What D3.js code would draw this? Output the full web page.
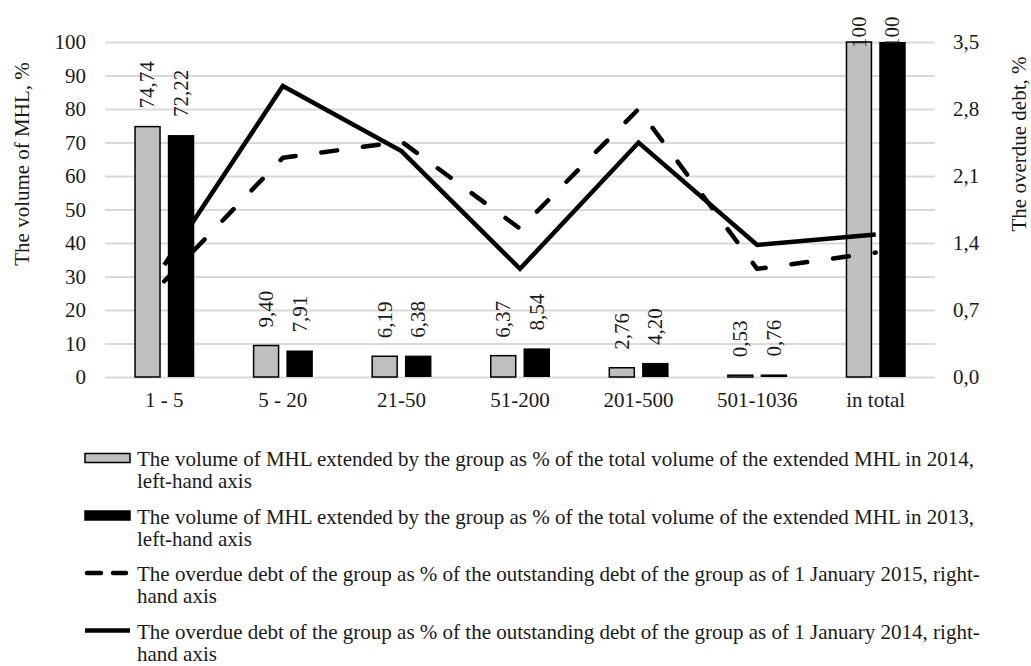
<!DOCTYPE html>
<html>
<head>
<meta charset="utf-8">
<script src="https://cdn.jsdelivr.net/npm/d3@7"></script>
<style>
  html, body { margin: 0; padding: 0; background: #fff; }
  svg text { font-family: "Liberation Serif", "Times New Roman", serif; fill: #1a1a1a; }
</style>
</head>
<body>
<svg id="chart" width="1031" height="666"></svg>
<script>
// ---- data ----
const categories = ["1 - 5", "5 - 20", "21-50", "51-200", "201-500", "501-1036", "in total"];
const volume2014 = [74.74, 9.40, 6.19, 6.37, 2.76, 0.53, 100];
const volume2013 = [72.22, 7.91, 6.38, 8.54, 4.20, 0.76, 100];
const overdue2015 = [1.00, 2.29, 2.46, 1.55, 2.80, 1.13, 1.30];
const overdue2014 = [1.17, 3.04, 2.36, 1.13, 2.45, 1.38, 1.49];
const leftTicks = [0, 10, 20, 30, 40, 50, 60, 70, 80, 90, 100];
const rightTicks = [0, 0.7, 1.4, 2.1, 2.8, 3.5];
const leftTitle = "The volume of MHL, %";
const rightTitle = "The overdue debt, %";
const legendItems = [
  ["The volume of MHL extended by the group as % of the total volume of the extended MHL in 2014,", "left-hand axis"],
  ["The volume of MHL extended by the group as % of the total volume of the extended MHL in 2013,", "left-hand axis"],
  ["The overdue debt of the group as % of the outstanding debt of the group as of 1 January 2015, right-", "hand axis"],
  ["The overdue debt of the group as % of the outstanding debt of the group as of 1 January 2014, right-", "hand axis"]
];

// ---- layout ----
const svg = d3.select("#chart");
const L = 105, R = 935, T = 42, B = 377;
const FS = 21;
const FF = '"Liberation Serif", "Times New Roman", serif';
const comma = s => s.replace(".", ",");

const x = d3.scaleBand().domain(categories).range([L, R]);
const groupW = 60;
const xi = d3.scaleBand().domain(["2014", "2013"]).range([0, groupW]).paddingInner(0.21);
const yL = d3.scaleLinear().domain([0, 100]).range([B, T]);
const yR = d3.scaleLinear().domain([0, 3.5]).range([B, T]);

function styleText(sel) {
  sel.attr("font-size", FS).style("font-family", FF).attr("fill", "#1a1a1a");
}

// gridlines + left axis
const gl = svg.append("g").attr("transform", `translate(${L},0)`)
  .call(d3.axisLeft(yL).tickValues(leftTicks).tickSize(-(R - L)).tickPadding(19).tickFormat(d3.format("d")));
gl.select(".domain").remove();
gl.selectAll(".tick line").attr("stroke", "#d9d9d9").attr("stroke-width", 2);
styleText(gl.selectAll(".tick text"));

// right axis
const gr = svg.append("g").attr("transform", `translate(${R},0)`)
  .call(d3.axisRight(yR).tickValues(rightTicks).tickSize(0).tickPadding(18).tickFormat(d => comma(d3.format(".1f")(d))));
gr.select(".domain").remove();
styleText(gr.selectAll(".tick text"));

// bottom axis
const gb = svg.append("g").attr("transform", `translate(0,${B})`)
  .call(d3.axisBottom(x).tickSize(0).tickPadding(15));
gb.select(".domain").remove();
styleText(gb.selectAll(".tick text"));

// axis titles
svg.append("text").attr("transform", `translate(29,164) rotate(-90)`)
  .attr("text-anchor", "middle").attr("font-size", FS).text(leftTitle);
svg.append("text").attr("transform", `translate(1026,144) rotate(-90)`)
  .attr("text-anchor", "middle").attr("font-size", FS).text(rightTitle);

// bars
const series = [
  { key: "2014", values: volume2014, fill: "#bfbfbf", stroke: "#000" },
  { key: "2013", values: volume2013, fill: "#000", stroke: "none" }
];
const off = (x.bandwidth() - groupW) / 2;
series.forEach(s => {
  const g = svg.append("g");
  g.selectAll("rect").data(s.values).enter().append("rect")
    .attr("x", (d, i) => x(categories[i]) + off + xi(s.key) + (s.stroke !== "none" ? 0.75 : 0))
    .attr("y", d => yL(d))
    .attr("width", xi.bandwidth() - (s.stroke !== "none" ? 1.5 : 0))
    .attr("height", d => B - yL(d))
    .attr("fill", s.fill)
    .attr("stroke", s.stroke)
    .attr("stroke-width", 1.5);
});

// lines
const line = d3.line().x((d, i) => x(categories[i]) + x.bandwidth() / 2).y(d => yR(d));
svg.append("path").datum(overdue2015).attr("d", line)
  .attr("fill", "none").attr("stroke", "#000").attr("stroke-width", 4.5)
  .attr("stroke-dasharray", "16,26").attr("stroke-linecap", "round").attr("stroke-linejoin", "round");
svg.append("path").datum(overdue2014).attr("d", line)
  .attr("fill", "none").attr("stroke", "#000").attr("stroke-width", 4.5)
  .attr("stroke-linejoin", "miter");

// bar labels
series.forEach(s => {
  svg.append("g").selectAll("text").data(s.values).enter().append("text")
    .attr("transform", (d, i) => {
      const cx = x(categories[i]) + off + xi(s.key) + xi.bandwidth() / 2;
      const yy = d >= 100 ? yL(d) + 6 : yL(d) - 18;
      return `translate(${cx},${yy}) rotate(-90)`;
    })
    .attr("dy", "0.33em")
    .attr("font-size", FS)
    .text(d => d >= 100 ? "100" : comma(d3.format(".2f")(d)));
});

// legend
const lg = svg.append("g");
const base0 = 466, step = 57.5, lh = 22;
legendItems.forEach((lines, i) => {
  const by = base0 + i * step;
  const cy = by - 8;
  if (i < 2) {
    lg.append("rect").attr("x", 85).attr("y", cy - 4.5).attr("width", 45).attr("height", 9)
      .attr("fill", i === 0 ? "#bfbfbf" : "#000").attr("stroke", "#000").attr("stroke-width", 1.5);
  } else if (i === 2) {
    lg.append("line").attr("x1", 87).attr("x2", 126).attr("y1", cy).attr("y2", cy)
      .attr("stroke", "#000").attr("stroke-width", 4.5).attr("stroke-dasharray", "14,12").attr("stroke-linecap", "round");
  } else {
    lg.append("line").attr("x1", 85).attr("x2", 130).attr("y1", cy).attr("y2", cy)
      .attr("stroke", "#000").attr("stroke-width", 4.5);
  }
  const t = lg.append("text").attr("x", 137).attr("y", by).attr("font-size", FS);
  lines.forEach((ln, j) => {
    t.append("tspan").attr("x", 137).attr("y", by + j * lh).text(ln);
  });
});
</script>
</body>
</html>
